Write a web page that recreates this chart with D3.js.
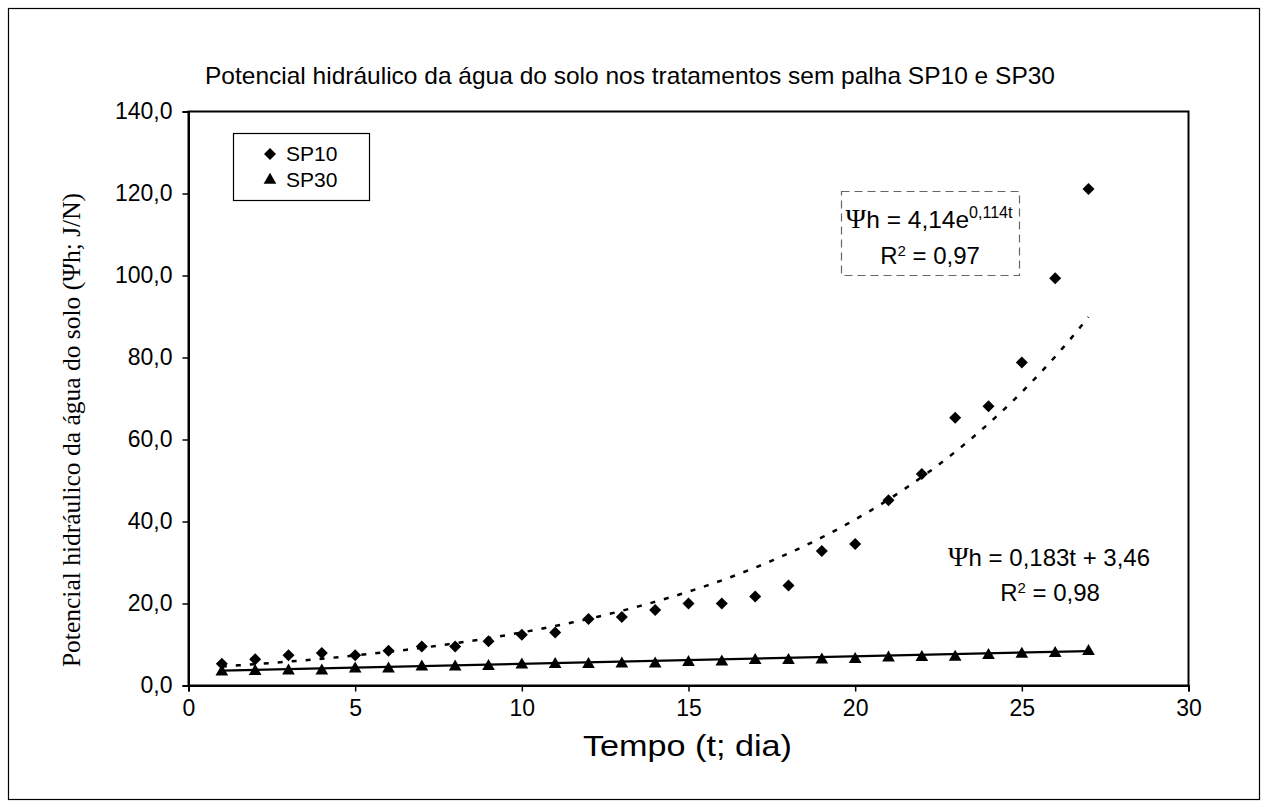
<!DOCTYPE html>
<html>
<head>
<meta charset="utf-8">
<style>
  body { margin: 0; background: #fff; }
  text { font-family: "Liberation Sans", Arial, sans-serif; }
</style>
</head>
<body>
<svg width="1268" height="807"></svg>
<script src="https://d3js.org/d3.v7.min.js"></script>
<script>

// dias
var dias = d3.range(1, 28);
// SP10 (losangos)
var sp10 = [5.3, 6.4, 7.4, 7.9, 7.4, 8.5, 9.5, 9.5, 10.8, 12.4, 12.9, 16.2, 16.7, 18.4,
            20.0, 20.0, 21.7, 24.4, 32.8, 34.5, 45.2, 51.6, 65.3, 68.1, 78.8, 99.3, 121.1];
// SP30 (triangulos)
var sp30 = [3.6, 3.7, 3.8, 3.8, 4.3, 4.3, 4.8, 4.8, 4.9, 5.3, 5.4, 5.4, 5.5, 5.5,
            5.9, 6.0, 6.4, 6.4, 6.5, 6.6, 7.0, 7.1, 7.2, 7.6, 7.9, 8.1, 8.6];
// linhas de tendencia
var ajusteExp = [4.14, 0.114];   // a * e^(b t)
var ajusteLin = [0.183, 3.46];   // a t + b
var xTicks = [0, 5, 10, 15, 20, 25, 30];
var yTicks = [0, 20, 40, 60, 80, 100, 120, 140];

var svg = d3.select("svg");
var margin = {top: 111.5, left: 188.5},
    width = 1000, height = 574;

var locale = d3.formatLocale({decimal: ",", thousands: ".", grouping: [3], currency: ["", ""]});
var fmt = locale.format(".1f");

// moldura externa
svg.append("rect")
  .attr("x", 8.5).attr("y", 8.5).attr("width", 1251).attr("height", 791)
  .attr("fill", "none").attr("stroke", "#000").attr("stroke-width", 1.2);

svg.append("text")
  .attr("x", 205).attr("y", 84)
  .attr("textLength", 850).attr("lengthAdjust", "spacingAndGlyphs")
  .style("font-size", "24px")
  .text("Potencial hidráulico da água do solo nos tratamentos sem palha SP10 e SP30");

var g = svg.append("g").attr("transform", "translate(" + margin.left + "," + margin.top + ")");

var x = d3.scaleLinear().domain([0, 30]).range([0, width]);
var y = d3.scaleLinear().domain([0, 140]).range([height, 0]);

g.append("rect")
  .attr("width", width).attr("height", height)
  .attr("fill", "none").attr("stroke", "#000").attr("stroke-width", 2);

var xAxis = g.append("g")
  .attr("transform", "translate(0," + height + ")")
  .call(d3.axisBottom(x).tickValues(xTicks).tickSize(6).tickPadding(8).tickFormat(d3.format("d")));
var yAxis = g.append("g")
  .call(d3.axisLeft(y).tickValues(yTicks).tickSize(6).tickPadding(10).tickFormat(fmt));

[xAxis, yAxis].forEach(function(a) {
  a.select(".domain").attr("stroke-width", 2);
  a.selectAll(".tick line").attr("stroke-width", 1.5);
  a.selectAll("text").style("font-size", "23px").attr("fill", "#000")
    .style("font-family", "'Liberation Sans', Arial, sans-serif");
});

svg.append("text")
  .attr("x", 583).attr("y", 756)
  .attr("textLength", 209).attr("lengthAdjust", "spacingAndGlyphs")
  .style("font-size", "30px")
  .text("Tempo (t; dia)");

svg.append("text")
  .attr("transform", "translate(80,430) rotate(-90)")
  .attr("text-anchor", "middle")
  .style("font-family", "'Liberation Serif', 'Times New Roman', serif")
  .style("font-size", "25.5px")
  .text("Potencial hidráulico da água do solo (Ψh; J/N)");

// linhas de tendencia
var tt = d3.range(1, 27.01, 0.25);
var line = d3.line().x(function(d) { return x(d[0]); }).y(function(d) { return y(d[1]); });

g.append("path")
  .datum(tt.map(function(t) { return [t, ajusteExp[0] * Math.exp(ajusteExp[1] * t)]; }))
  .attr("fill", "none").attr("stroke", "#000")
  .attr("stroke-width", 2.5).attr("stroke-dasharray", "5,9")
  .attr("d", line);

g.append("path")
  .datum([1, 27].map(function(t) { return [t, ajusteLin[0] * t + ajusteLin[1]]; }))
  .attr("fill", "none").attr("stroke", "#000").attr("stroke-width", 2.2)
  .attr("d", line);

var diamond = d3.symbol().type(d3.symbolSquare).size(72);
var tri = d3.symbol().type(d3.symbolTriangle).size(70);

g.selectAll(".sp10").data(dias).enter().append("path")
  .attr("class", "sp10")
  .attr("d", diamond)
  .attr("transform", function(d, i) { return "translate(" + x(d) + "," + y(sp10[i]) + ") rotate(45)"; })
  .attr("fill", "#000");

g.selectAll(".sp30").data(dias).enter().append("path")
  .attr("class", "sp30")
  .attr("d", tri)
  .attr("transform", function(d, i) { return "translate(" + x(d) + "," + (y(sp30[i]) + 1) + ")"; })
  .attr("fill", "#000");

// legenda
var leg = svg.append("g").attr("transform", "translate(233,133)");
leg.append("rect").attr("x", 0.5).attr("y", 0.5).attr("width", 136).attr("height", 67)
  .attr("fill", "#fff").attr("stroke", "#000").attr("stroke-width", 1.2);
leg.append("path").attr("d", diamond).attr("transform", "translate(37,21) rotate(45)");
leg.append("path").attr("d", tri).attr("transform", "translate(37,47)");
leg.append("text").attr("x", 53).attr("y", 28).style("font-size", "21px").text("SP10");
leg.append("text").attr("x", 53).attr("y", 54).style("font-size", "21px").text("SP30");

// equacoes
var psi = "'Liberation Serif', 'Times New Roman', serif";
svg.append("rect").attr("x", 841.5).attr("y", 191.5).attr("width", 178).attr("height", 84)
  .attr("fill", "#fff").attr("stroke", "#666").attr("stroke-width", 1.2).attr("stroke-dasharray", "8,5");
var e1 = svg.append("text").attr("x", 929).attr("y", 228).attr("text-anchor", "middle").style("font-size", "24.5px");
e1.append("tspan").style("font-family", psi).style("font-size", "28px").text("Ψ");
e1.append("tspan").text("h = 4,14e");
e1.append("tspan").attr("dy", -10).style("font-size", "16px").text("0,114t");
var r1 = svg.append("text").attr("x", 930).attr("y", 264).attr("text-anchor", "middle").style("font-size", "24px");
r1.append("tspan").text("R");
r1.append("tspan").attr("dy", -8).style("font-size", "15px").text("2");
r1.append("tspan").attr("dy", 8).text(" = 0,97");

var e2 = svg.append("text").attr("x", 1049).attr("y", 566).attr("text-anchor", "middle").style("font-size", "24px");
e2.append("tspan").style("font-family", psi).style("font-size", "28px").text("Ψ");
e2.append("tspan").text("h = 0,183t + 3,46");
var r2 = svg.append("text").attr("x", 1050).attr("y", 601).attr("text-anchor", "middle").style("font-size", "24px");
r2.append("tspan").text("R");
r2.append("tspan").attr("dy", -8).style("font-size", "15px").text("2");
r2.append("tspan").attr("dy", 8).text(" = 0,98");

</script>
</body>
</html>
